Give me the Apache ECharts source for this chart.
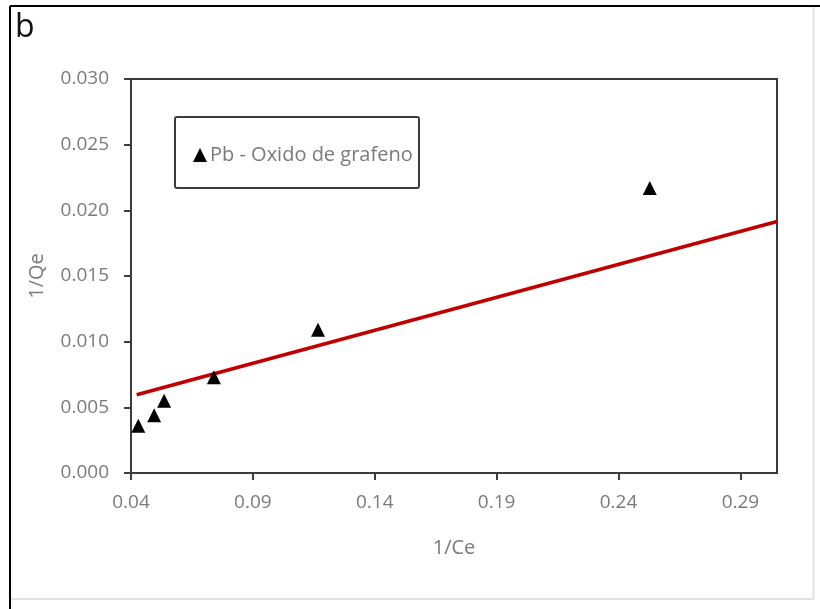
<!DOCTYPE html>
<html>
<head>
<meta charset="utf-8">
<script src="https://cdn.jsdelivr.net/npm/echarts@6/dist/echarts.min.js"></script>
<style>
  html, body { margin: 0; padding: 0; background: #fff; }
  #chart { width: 820px; height: 609px; }
</style>
</head>
<body>
<div id="chart"></div>
<script>
// Langmuir linearisation: 1/Qe versus 1/Ce
const seriesName = 'Pb - Oxido de grafeno';
const invCe = [0.043, 0.0495, 0.0536, 0.074, 0.1167, 0.2528];
const invQe = [0.0036, 0.0044, 0.0055, 0.0073, 0.0109, 0.0217];

// Trend line end points
const fitX = [0.0423, 0.305];
const fitY = [0.00596, 0.01915];

const xTicks = [0.04, 0.09, 0.14, 0.19, 0.24, 0.29];
const yTicks = [0, 0.005, 0.01, 0.015, 0.02, 0.025, 0.03];

const gray = '#7a7a7a';
const axisDark = '#3c3c3c';
const font = 'Open Sans';

const chart = echarts.init(document.getElementById('chart'), null, { renderer: 'canvas' });

chart.setOption({
  backgroundColor: '#fff',
  animation: false,
  grid: {
    left: 131, right: 43, top: 79, bottom: 136,
    show: true, borderColor: axisDark, borderWidth: 2, backgroundColor: 'transparent'
  },
  xAxis: {
    type: 'value',
    min: 0.04, max: 0.305, interval: 0.05,
    name: '1/Ce', nameLocation: 'middle', nameGap: 65,
    nameTextStyle: { color: gray, fontFamily: font, fontSize: 20 },
    splitLine: { show: false },
    axisLine: { lineStyle: { color: axisDark, width: 2 } },
    axisTick: { show: true, customValues: xTicks, length: 7, lineStyle: { color: axisDark, width: 2 } },
    axisLabel: {
      customValues: xTicks, margin: 20, color: gray, fontFamily: font, fontSize: 19,
      formatter: v => v.toFixed(2)
    }
  },
  yAxis: {
    type: 'value',
    min: 0, max: 0.03, interval: 0.005,
    name: '1/Qe', nameLocation: 'middle', nameGap: 84, nameRotate: 90,
    nameTextStyle: { color: gray, fontFamily: font, fontSize: 20 },
    splitLine: { show: false },
    axisLine: { show: true, lineStyle: { color: axisDark, width: 2 } },
    axisTick: { show: true, customValues: yTicks, length: 7, lineStyle: { color: axisDark, width: 2 } },
    axisLabel: {
      customValues: yTicks, margin: 22, color: gray, fontFamily: font, fontSize: 19,
      formatter: v => v.toFixed(3)
    }
  },
  legend: {
    left: 188, top: 140,
    data: [{ name: seriesName, icon: 'triangle', itemStyle: { color: '#000', opacity: 1 } }],
    itemWidth: 14, itemHeight: 14, itemGap: 4,
    textStyle: { color: gray, fontFamily: font, fontSize: 20, padding: [0, 0, 0, -2] }
  },
  graphic: [
    // legend frame
    { type: 'rect', shape: { x: 175, y: 117, width: 244, height: 71, r: 2 },
      style: { fill: 'none', stroke: axisDark, lineWidth: 2 }, z: 10 },
    // panel letter
    { type: 'text', left: 15, top: 12,
      style: { text: 'b', fill: '#111', font: '32px "Open Sans"' } },
    // figure frame
    { type: 'line', shape: { x1: 10, y1: 6, x2: 820, y2: 6 }, style: { stroke: '#000', lineWidth: 2 } },
    { type: 'line', shape: { x1: 10, y1: 6, x2: 10, y2: 609 }, style: { stroke: '#000', lineWidth: 2 } },
    { type: 'line', shape: { x1: 813.5, y1: 7, x2: 813.5, y2: 599 }, style: { stroke: '#e2e2e2', lineWidth: 2 } },
    { type: 'line', shape: { x1: 11, y1: 599, x2: 814, y2: 599 }, style: { stroke: '#e2e2e2', lineWidth: 2 } }
  ],
  series: [
    {
      name: 'trend',
      type: 'line',
      data: fitX.map((x, i) => [x, fitY[i]]),
      symbol: 'none',
      lineStyle: { color: '#c00000', width: 3.5 },
      z: 2
    },
    {
      name: seriesName,
      type: 'scatter',
      data: invCe.map((x, i) => [x, invQe[i]]),
      symbol: 'triangle',
      symbolSize: 14,
      itemStyle: { color: '#000', opacity: 1 },
      z: 3
    }
  ]
});
</script>
</body>
</html>
